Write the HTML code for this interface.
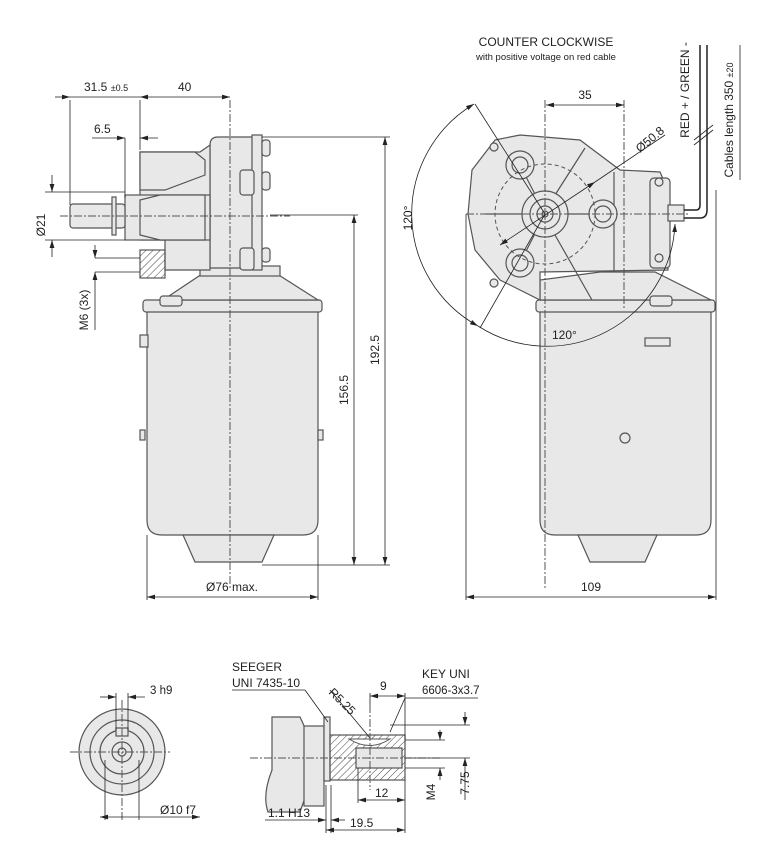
<!DOCTYPE html>
<html><head><meta charset="utf-8"><style>
html,body{margin:0;padding:0;background:#fff;}
svg{display:block;font-family:"Liberation Sans",Arial,sans-serif;}
</style></head><body>
<svg width="758" height="865" viewBox="0 0 758 865" xmlns="http://www.w3.org/2000/svg">
<defs>
<marker id="a" viewBox="0 0 10 6" refX="10" refY="3" markerWidth="10" markerHeight="6" orient="auto-start-reverse"><path d="M0,0 L10,3 L0,6 z" fill="#222"/></marker>
<pattern id="h" width="5" height="5" patternUnits="userSpaceOnUse" patternTransform="rotate(45)"><line x1="0" y1="0" x2="0" y2="5" stroke="#444" stroke-width="1"/></pattern>
</defs>
<g fill="#e8e8e8" stroke="#555" stroke-width="1.2">
<!-- LEFT VIEW -->
<path d="M147,310 L318,310 L318,520 Q318,535 303,535 L162,535 Q147,535 147,520 Z"/>
<rect x="143" y="300" width="179" height="12" rx="3"/>
<path d="M183,535 L274,535 L262,562 L195,562 Z"/>
<path d="M163,300 L205,272 L274,272 L318,300 Z"/>
<rect x="200" y="266" width="80" height="10"/>
<path d="M210,145 Q210,137 218,137 L256,137 L256,268 L210,268 Z"/>
<rect x="252" y="135" width="10" height="135"/>
<rect x="262" y="140" width="8" height="16" rx="3"/>
<rect x="262" y="172" width="8" height="18" rx="3"/>
<rect x="262" y="248" width="8" height="14" rx="3"/>
<rect x="240" y="170" width="14" height="25" rx="3"/>
<rect x="240" y="248" width="14" height="22" rx="3"/>
<path d="M140,152 L200,152 L210,145 L210,270 L165,270 L165,240 L140,240 L140,225 Z"/>
<path d="M140,152 L195,152 L205,160 L205,175 L165,190 L140,190 Z"/>
<rect x="125" y="195" width="85" height="45"/>
<path d="M140,200 L160,195 L205,195 L205,240 L160,240 L140,235 Z"/>
<rect x="140" y="250" width="25" height="28" fill="url(#h)"/>
<rect x="70" y="204" width="55" height="24" rx="3"/>
<rect x="112" y="197" width="4" height="38"/>
<rect x="160" y="296" width="22" height="10" rx="3"/>
<rect x="140" y="335" width="8" height="12"/>
<rect x="318" y="430" width="5" height="10"/>
<rect x="140" y="430" width="5" height="10"/>
<!-- RIGHT VIEW -->
<path d="M540,310 L711,310 L711,520 Q711,535 696,535 L555,535 Q540,535 540,520 Z"/>
<rect x="536" y="300" width="179" height="12" rx="3"/>
<path d="M578,535 L657,535 L645,562 L590,562 Z"/>
<path d="M540,300 L540,280 L600,272 L655,272 L711,300 Z"/>
<path d="M495,140 L520,135 L580,140 L620,170 L660,172 L668,190 L668,270 L540,272 L540,300 L500,280 L475,250 L468,214 L472,170 Z"/>
<rect x="650" y="178" width="20" height="90" rx="4"/>
<rect x="668" y="205" width="16" height="16"/>
<line x1="545" y1="214" x2="520" y2="165"/><line x1="545" y1="214" x2="520" y2="263"/>
<line x1="545" y1="214" x2="603" y2="214"/><line x1="545" y1="214" x2="485" y2="214"/>
<line x1="555" y1="195" x2="585" y2="148"/><line x1="555" y1="235" x2="592" y2="300"/>
<line x1="614" y1="172" x2="614" y2="272"/>
<circle cx="520" cy="165" r="14"/><circle cx="520" cy="165" r="8"/>
<circle cx="520" cy="263" r="14"/><circle cx="520" cy="263" r="8"/>
<circle cx="603" cy="214" r="14"/><circle cx="603" cy="214" r="8"/>
<circle cx="545" cy="214" r="23"/><circle cx="545" cy="214" r="15"/><circle cx="545" cy="214" r="8"/><circle cx="545" cy="214" r="3"/>
<circle cx="494" cy="147" r="4"/><circle cx="494" cy="283" r="4"/><circle cx="659" cy="182" r="4"/><circle cx="659" cy="258" r="4"/>
<rect x="650" y="296" width="22" height="10" rx="3"/>
<rect x="645" y="338" width="25" height="8"/>
<circle cx="625" cy="438" r="5"/>
<!-- BOTTOM LEFT -->
<circle cx="122" cy="752" r="43"/>
<circle cx="122" cy="752" r="32"/>
<circle cx="122" cy="752" r="22"/>
<circle cx="122" cy="752" r="10"/>
<circle cx="122" cy="752" r="4"/>
<rect x="116" y="728" width="12" height="8"/>
<!-- BOTTOM MIDDLE -->
<path d="M272,717 L300,717 L306,730 L306,795 L300,812 L268,812 Q262,795 272,770 Z"/>
<rect x="304" y="726" width="20" height="80"/>
<rect x="324" y="717" width="6" height="64"/>
<rect x="330" y="735" width="75" height="45" fill="url(#h)"/>
<rect x="356" y="748" width="46" height="20" fill="#e8e8e8"/>
</g>
<path d="M349,739 Q370,752 390,739 Z" fill="#fff" stroke="#555"/>
<g fill="none" stroke="#555" stroke-width="1" stroke-dasharray="8,2,2,2">
<line x1="230" y1="100" x2="230" y2="590"/>
<line x1="60" y1="216" x2="290" y2="216"/>
<line x1="545" y1="100" x2="545" y2="590"/>
<line x1="466" y1="214" x2="690" y2="214"/>
<line x1="624" y1="100" x2="624" y2="310"/>
<circle cx="545" cy="214" r="50" stroke-dasharray="4,3"/>
<line x1="122" y1="700" x2="122" y2="820"/>
<line x1="70" y1="752" x2="170" y2="752"/>
<line x1="250" y1="758" x2="440" y2="758"/>
<line x1="370" y1="705" x2="370" y2="790"/>
</g>
<g fill="none" stroke="#222" stroke-width="0.8">
<line x1="70" y1="100" x2="70" y2="205"/><line x1="140" y1="100" x2="140" y2="150"/>
<line x1="55" y1="97" x2="70" y2="97" marker-end="url(#a)"/>
<line x1="140" y1="97" x2="230" y2="97" marker-start="url(#a)" marker-end="url(#a)"/>
<line x1="70" y1="97" x2="140" y2="97"/>
<line x1="92" y1="138" x2="125" y2="138" marker-end="url(#a)"/><line x1="140" y1="138" x2="158" y2="138" marker-start="url(#a)"/>
<line x1="125" y1="138" x2="125" y2="198"/>
<line x1="45" y1="192" x2="125" y2="192"/><line x1="45" y1="240" x2="125" y2="240"/>
<line x1="52" y1="175" x2="52" y2="192" marker-end="url(#a)"/><line x1="52" y1="240" x2="52" y2="257" marker-start="url(#a)"/>
<line x1="95" y1="258" x2="140" y2="258"/><line x1="95" y1="272" x2="140" y2="272"/>
<line x1="95" y1="245" x2="95" y2="258" marker-end="url(#a)"/><line x1="95" y1="272" x2="95" y2="330" marker-start="url(#a)"/>
<line x1="262" y1="137" x2="390" y2="137"/><line x1="270" y1="215" x2="358" y2="215"/>
<line x1="262" y1="565" x2="390" y2="565"/>
<line x1="385" y1="137" x2="385" y2="565" marker-start="url(#a)" marker-end="url(#a)"/>
<line x1="354" y1="215" x2="354" y2="565" marker-start="url(#a)" marker-end="url(#a)"/>
<line x1="147" y1="535" x2="147" y2="600"/><line x1="318" y1="535" x2="318" y2="600"/>
<line x1="147" y1="597" x2="318" y2="597" marker-start="url(#a)" marker-end="url(#a)"/>
<line x1="466" y1="214" x2="466" y2="600"/><line x1="716" y1="190" x2="716" y2="600"/>
<line x1="466" y1="597" x2="716" y2="597" marker-start="url(#a)" marker-end="url(#a)"/>
<line x1="546" y1="105" x2="624" y2="105" marker-start="url(#a)" marker-end="url(#a)"/>
<path d="M474,104 A128,128 0 0,0 478,326" marker-start="url(#a)" marker-end="url(#a)"/>
<path d="M478,326 A128,128 0 0,0 675,224" marker-end="url(#a)"/>
<line x1="545" y1="214" x2="475" y2="104"/><line x1="545" y1="214" x2="480" y2="328"/>
<line x1="500" y1="245" x2="595" y2="182" marker-start="url(#a)" marker-end="url(#a)"/>
<line x1="595" y1="182" x2="665" y2="135"/>
<path d="M684,210 L696,210 Q700,210 700,205 L700,45 M684,218 L700,218 Q707,218 707,210 L707,45" stroke-width="1.5"/>
<line x1="694" y1="140" x2="713" y2="125"/><line x1="694" y1="145" x2="713" y2="130"/>
<line x1="740" y1="45" x2="740" y2="180"/>
<line x1="116" y1="693" x2="116" y2="730"/><line x1="128" y1="693" x2="128" y2="730"/>
<line x1="100" y1="697" x2="116" y2="697" marker-end="url(#a)"/><line x1="128" y1="697" x2="145" y2="697" marker-start="url(#a)"/>
<line x1="105" y1="760" x2="105" y2="820"/><line x1="139" y1="760" x2="139" y2="820"/>
<line x1="100" y1="817" x2="200" y2="817" marker-start="url(#a)" marker-end="url(#a)"/>
<line x1="232" y1="690" x2="305" y2="690"/><line x1="305" y1="690" x2="328" y2="722"/>
<line x1="330" y1="690" x2="370" y2="738"/>
<line x1="405" y1="698" x2="478" y2="698"/><line x1="405" y1="698" x2="390" y2="732"/>
<line x1="370" y1="693" x2="370" y2="705"/><line x1="405" y1="693" x2="405" y2="740"/>
<line x1="370" y1="696" x2="405" y2="696" marker-start="url(#a)" marker-end="url(#a)"/>
<line x1="390" y1="725" x2="470" y2="725"/><line x1="405" y1="740" x2="445" y2="740"/><line x1="405" y1="768" x2="445" y2="768"/>
<line x1="440" y1="730" x2="440" y2="740" marker-end="url(#a)"/><line x1="440" y1="768" x2="440" y2="780" marker-start="url(#a)"/>
<line x1="465" y1="712" x2="465" y2="725" marker-end="url(#a)"/><line x1="465" y1="758" x2="465" y2="800" marker-start="url(#a)"/>
<line x1="405" y1="758" x2="470" y2="758"/>
<line x1="358" y1="768" x2="358" y2="803"/>
<line x1="358" y1="800" x2="405" y2="800" marker-start="url(#a)" marker-end="url(#a)"/>
<line x1="326" y1="785" x2="326" y2="833"/><line x1="331" y1="785" x2="331" y2="833"/>
<line x1="265" y1="820" x2="326" y2="820" marker-end="url(#a)"/><line x1="331" y1="820" x2="345" y2="820" marker-start="url(#a)"/>
<line x1="405" y1="780" x2="405" y2="833"/>
<line x1="326" y1="830" x2="405" y2="830" marker-start="url(#a)" marker-end="url(#a)"/>
</g>
<g fill="#222" font-size="12">
<text x="84" y="91">31.5 <tspan font-size="9">±0.5</tspan></text>
<text x="178" y="91">40</text>
<text x="94" y="133">6.5</text>
<text x="45" y="225" transform="rotate(-90 45 225)" text-anchor="middle">Ø21</text>
<text x="88" y="310" transform="rotate(-90 88 310)" text-anchor="middle">M6 (3x)</text>
<text x="379" y="350" transform="rotate(-90 379 350)" text-anchor="middle">192.5</text>
<text x="348" y="390" transform="rotate(-90 348 390)" text-anchor="middle">156.5</text>
<text x="232" y="591" text-anchor="middle">Ø76 max.</text>
<text x="591" y="591" text-anchor="middle">109</text>
<text x="585" y="99" text-anchor="middle">35</text>
<text x="546" y="46" text-anchor="middle">COUNTER CLOCKWISE</text>
<text x="546" y="60" text-anchor="middle" font-size="9.5">with positive voltage on red cable</text>
<text x="640" y="153" transform="rotate(-40 640 153)">Ø50.8</text>
<text x="412" y="218" transform="rotate(-90 412 218)" text-anchor="middle">120°</text>
<text x="552" y="339">120°</text>
<text x="689" y="90" transform="rotate(-90 689 90)" text-anchor="middle">RED + / GREEN -</text>
<text x="733" y="120" transform="rotate(-90 733 120)" text-anchor="middle">Cables length 350 <tspan font-size="9">±20</tspan></text>
<text x="150" y="694" font-size="11.5">3 h9</text>
<text x="160" y="814">Ø10 f7</text>
<text x="232" y="671">SEEGER</text>
<text x="232" y="687">UNI 7435-10</text>
<text x="380" y="690">9</text>
<text x="328" y="693" transform="rotate(45 328 693)">R5.25</text>
<text x="422" y="678">KEY UNI</text>
<text x="422" y="694" font-size="11.5">6606-3x3.7</text>
<text x="375" y="797">12</text>
<text x="435" y="792" transform="rotate(-90 435 792)" text-anchor="middle">M4</text>
<text x="469" y="783" transform="rotate(-90 469 783)" text-anchor="middle">7.75</text>
<text x="268" y="817">1.1 H13</text>
<text x="350" y="827">19.5</text>
</g>
</svg>
</body></html>
